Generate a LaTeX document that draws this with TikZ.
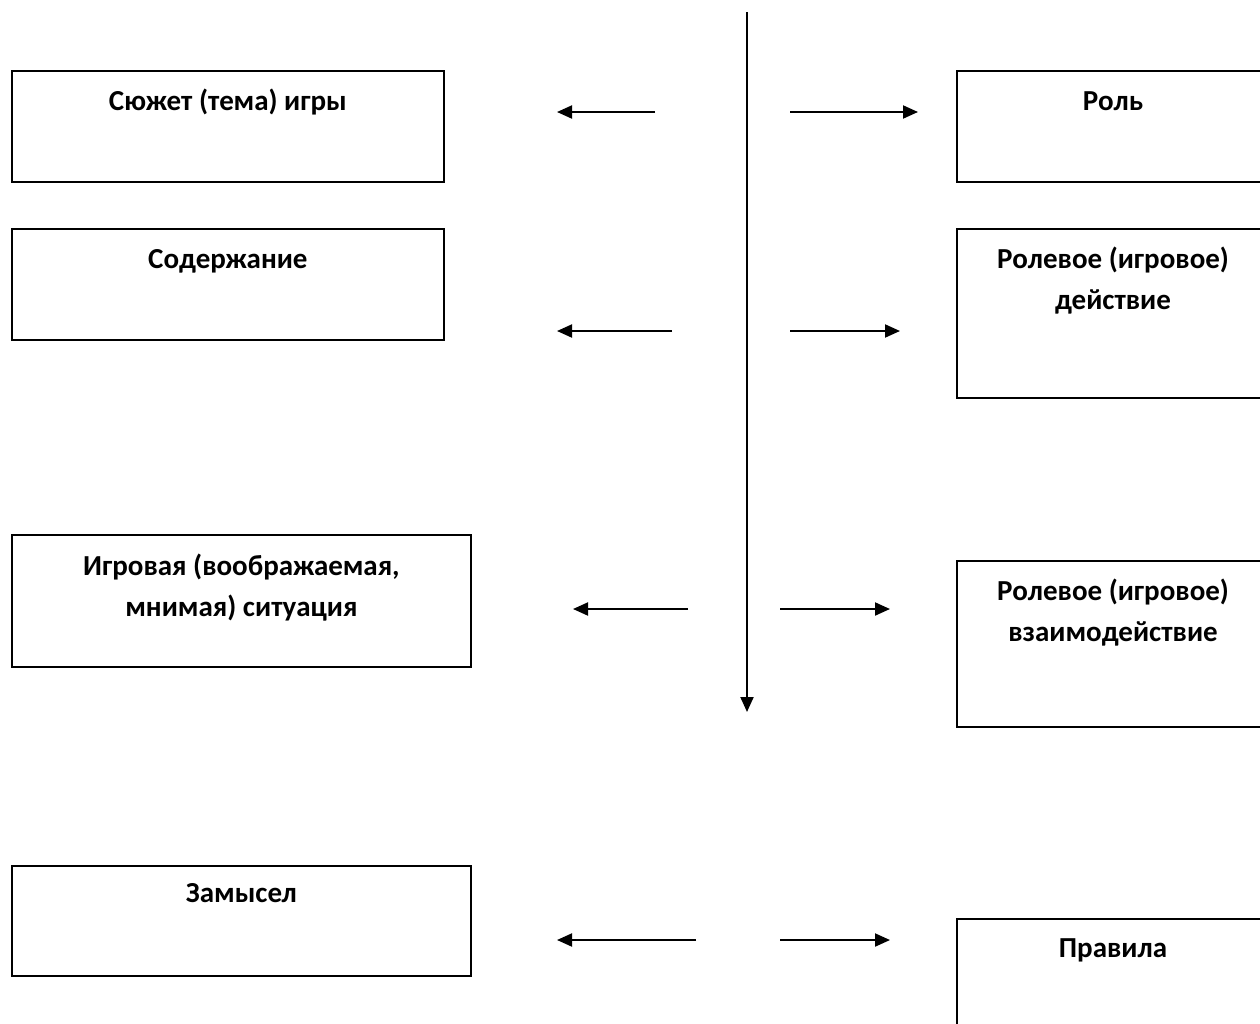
\documentclass[tikz,border=0pt]{standalone}
\usepackage{fontspec}
\setmainfont{Carlito}
\usetikzlibrary{arrows.meta}

\tikzset{
  box/.style={draw, line width=1.8pt, rectangle, anchor=north west, inner sep=0pt},
  boxtext/.style={font=\bfseries\fontsize{29}{41}\selectfont, align=center, anchor=base},
  arr/.style={line width=2pt, -{Triangle[length=15pt,width=13pt]}}
}

\begin{document}
\begin{tikzpicture}[x=1pt,y=-1pt]

    \useasboundingbox (0,0) rectangle (1260,1023);
    \clip (0,0) rectangle (1260,1023);

    % Draw the left boxes
    \node[box, minimum width=432pt, minimum height=111pt] (syuzhet) at (11,70) {};
    \node[box, minimum width=432pt, minimum height=111pt] (soderzh) at (11,228) {};
    \node[box, minimum width=459pt, minimum height=132pt] (situac) at (11,534) {};
    \node[box, minimum width=459pt, minimum height=110pt] (zamysel) at (11,865) {};

    % Draw the right boxes (cut at the page edge)
    \node[box, minimum width=330pt, minimum height=111pt] (rol) at (956,70) {};
    \node[box, minimum width=330pt, minimum height=169pt] (deistv) at (956,228) {};
    \node[box, minimum width=330pt, minimum height=166pt] (vzaim) at (956,560) {};
    \node[box, minimum width=330pt, minimum height=150pt] (pravila) at (956,918) {};

    % Box texts (base anchor sits on the last line)
    \node[boxtext] (syuzhet-t) at ([yshift=-40pt]syuzhet.north) {Сюжет (тема) игры};
    \node[boxtext] (soderzh-t) at ([yshift=-40pt]soderzh.north) {Содержание};
    \node[boxtext] (situac-t) at ([yshift=-82pt]situac.north) {Игровая (воображаемая,\\мнимая) ситуация};
    \node[boxtext] (zamysel-t) at ([yshift=-37pt]zamysel.north) {Замысел};
    \node[boxtext] (rol-t) at ([xshift=157pt,yshift=-40pt]rol.north west) {Роль};
    \node[boxtext] (deistv-t) at ([xshift=157pt,yshift=-81pt]deistv.north west) {Ролевое (игровое)\\действие};
    \node[boxtext] (vzaim-t) at ([xshift=157pt,yshift=-81pt]vzaim.north west) {Ролевое (игровое)\\взаимодействие};
    \node[boxtext] (pravila-t) at ([xshift=157pt,yshift=-39pt]pravila.north west) {Правила};

    % Draw the central axis
    \coordinate (axis-top) at (747,12);
    \coordinate (axis-end) at (747,712);
    \draw[arr] (axis-top) -- (axis-end);

    % Side arrows
    \foreach \i/\y/\lt/\ls/\rs/\rt in {1/112/557/655/790/918, 2/331/557/672/790/900,
                                       3/609/573/688/780/890, 4/940/557/696/780/890} {
        \coordinate (ls\i) at (\ls,\y);
        \coordinate (lt\i) at (\lt,\y);
        \coordinate (rs\i) at (\rs,\y);
        \coordinate (rt\i) at (\rt,\y);
        \draw[arr] (ls\i) -- (lt\i);
        \draw[arr] (rs\i) -- (rt\i);
    }

\end{tikzpicture}
\end{document}
